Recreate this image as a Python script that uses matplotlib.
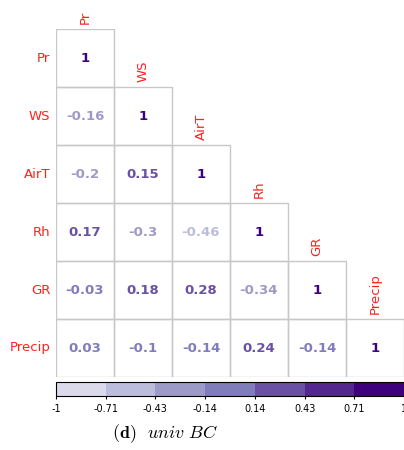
import numpy as np
import matplotlib.pyplot as plt
from matplotlib.colors import ListedColormap, BoundaryNorm
from matplotlib.colorbar import ColorbarBase

plt.rcParams['mathtext.fontset'] = 'cm'

names = ["Pr", "WS", "AirT", "Rh", "GR", "Precip"]
corr = [
    [1],
    [-0.16, 1],
    [-0.2, 0.15, 1],
    [0.17, -0.3, -0.46, 1],
    [-0.03, 0.18, 0.28, -0.34, 1],
    [0.03, -0.1, -0.14, 0.24, -0.14, 1],
]
bounds = [-1, -0.71, -0.43, -0.14, 0.14, 0.43, 0.71, 1]
bin_colors = ['#DADAEB', '#BCBDDC', '#9E9AC8', '#807DBA', '#6A51A3', '#54278F', '#3F007D']
cmap = ListedColormap(bin_colors)
norm = BoundaryNorm(bounds, cmap.N)

W, H = 404, 450
fig = plt.figure(figsize=(W / 100, H / 100), dpi=100)
ax = fig.add_axes([56 / W, (H - 377) / H, 348 / W, 348 / H])
ax.set_xlim(0, 6)
ax.set_ylim(6, 0)
ax.axis('off')

n = len(names)
for i in range(n):
    for j in range(i + 1):
        ax.add_patch(plt.Rectangle((j, i), 1, 1, fill=False, ec='#c8c8c8', lw=1))
        v = corr[i][j]
        ax.text(j + 0.5, i + 0.5, f"{v:g}", ha='center', va='center',
                fontsize=9.5, fontweight='bold', color=cmap(norm(v)))
    ax.text(-0.1, i + 0.5, names[i], ha='right', va='center', color='#ff2020', fontsize=9.5)
    ax.text(i + 0.5, i - 0.08, names[i], ha='center', va='bottom', rotation=90,
            color='#ff2020', fontsize=9.5)

cax = fig.add_axes([56 / W, (H - 396) / H, 348 / W, 14 / H])
cb = ColorbarBase(cax, cmap=cmap, norm=norm, orientation='horizontal',
                  ticks=bounds, drawedges=False)
cb.ax.set_xticklabels(["-1", "-0.71", "-0.43", "-0.14", "0.14", "0.43", "0.71", "1"])
cb.ax.tick_params(labelsize=7, length=2)
cb.outline.set_linewidth(0.8)

fig.text(165 / W, 1 - 434 / H, r"$\mathbf{(d)}$  $\it{univ\ BC}$", ha='center',
         va='center', fontsize=13)

fig.savefig("out.png", dpi=100)
